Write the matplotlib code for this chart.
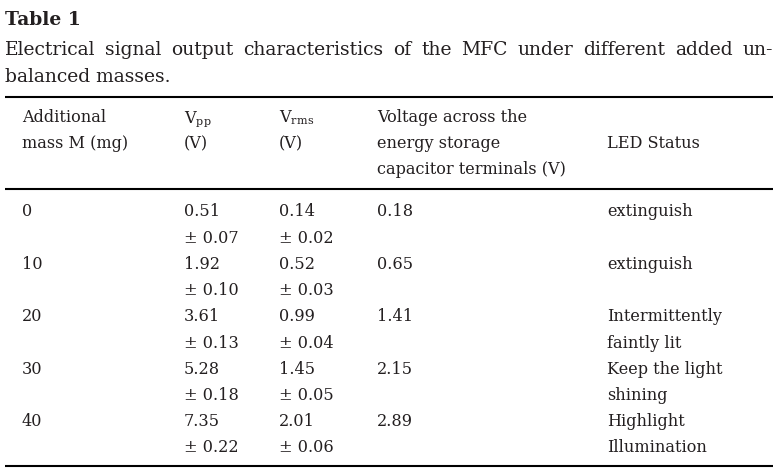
import matplotlib

matplotlib.use("Agg")
import matplotlib.pyplot as plt

W, H = 783, 468
FONT = "DejaVu Serif"
INK = "#231f20"
plt.rcParams["mathtext.fontset"] = "dejavuserif"

TITLE = "Table 1"
CAPTION = [
    "Electrical signal output characteristics of the MFC under different added un-",
    "balanced masses.",
]

# header cells, one list of lines per column
HEADERS = [
    ["Additional", "mass M (mg)"],
    [r"V$_\mathregular{pp}$", "(V)"],
    [r"V$_\mathregular{rms}$", "(V)"],
    ["Voltage across the", "energy storage", "capacitor terminals (V)"],
    ["", "LED Status"],
]

mass_mg = [0, 10, 20, 30, 40]
vpp = [0.51, 1.92, 3.61, 5.28, 7.35]
vpp_err = [0.07, 0.10, 0.13, 0.18, 0.22]
vrms = [0.14, 0.52, 0.99, 1.45, 2.01]
vrms_err = [0.02, 0.03, 0.04, 0.05, 0.06]
v_cap = [0.18, 0.65, 1.41, 2.15, 2.89]
led_status = [
    ["extinguish"],
    ["extinguish"],
    ["Intermittently", "faintly lit"],
    ["Keep the light", "shining"],
    ["Highlight", "Illumination"],
]

COL_X = [22, 184, 279, 377, 607]
LEFT, RIGHT = 5, 773
BODY_FS = 11.6
CAP_FS = 13.5
LINE = 26.2

fig = plt.figure(figsize=(W / 100, H / 100), dpi=100)
ax = fig.add_axes([0, 0, 1, 1])
ax.set_xlim(0, W)
ax.set_ylim(H, 0)
ax.axis("off")
renderer = fig.canvas.get_renderer()


def txt(x, y, s, fs=BODY_FS, **kw):
    return ax.text(x, y, s, fontsize=fs, family=FONT, color=INK, va="baseline", **kw)


def justify(line, y, fs):
    # spread the words of a full caption line across the text block
    words = line.split()
    widths = []
    for w in words:
        t = txt(0, 0, w, fs)
        widths.append(t.get_window_extent(renderer).width)
        t.remove()
    gap = (RIGHT - LEFT - sum(widths)) / (len(words) - 1)
    x = LEFT
    for w, wd in zip(words, widths):
        txt(x, y, w, fs)
        x += wd + gap


txt(LEFT, 25, TITLE, 13.5, fontweight="bold")
justify(CAPTION[0], 55, CAP_FS)
txt(LEFT, 82, CAPTION[1], CAP_FS)

for yy in (96.5, 188.5, 465.5):
    ax.hlines(yy, LEFT, RIGHT, color="black", lw=1.5)

for x, lines in zip(COL_X, HEADERS):
    for i, s in enumerate(lines):
        txt(x, 122 + i * LINE, s)

y0 = 216.5
for k in range(len(mass_mg)):
    y = y0 + 2 * k * LINE
    txt(COL_X[0], y, f"{mass_mg[k]}")
    txt(COL_X[1], y, f"{vpp[k]:.2f}")
    txt(COL_X[1], y + LINE, f"\u00b1 {vpp_err[k]:.2f}")
    txt(COL_X[2], y, f"{vrms[k]:.2f}")
    txt(COL_X[2], y + LINE, f"\u00b1 {vrms_err[k]:.2f}")
    txt(COL_X[3], y, f"{v_cap[k]:.2f}")
    for i, s in enumerate(led_status[k]):
        txt(COL_X[4], y + i * LINE, s)

fig.savefig("out.png", dpi=100)
